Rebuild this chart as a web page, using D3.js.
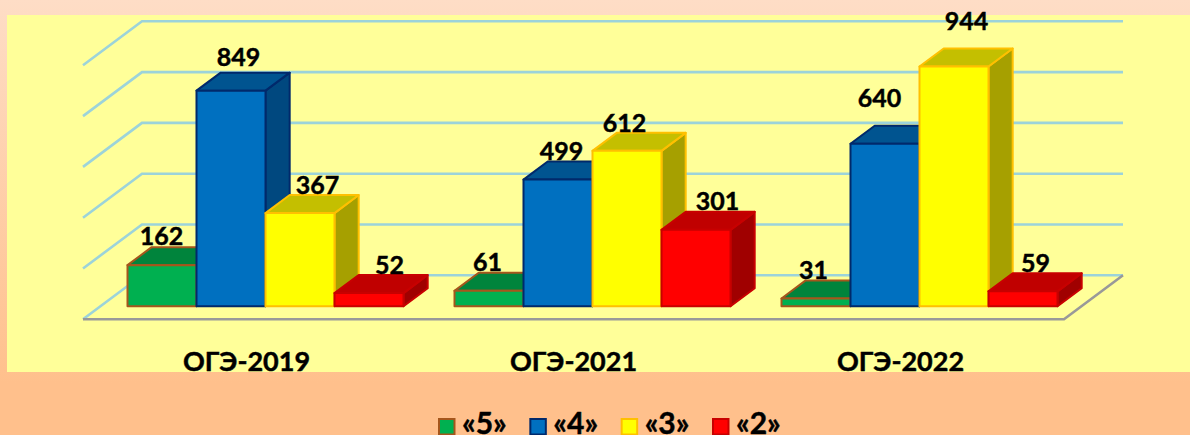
<!DOCTYPE html>
<html><head><meta charset="utf-8">
<script src="https://cdn.jsdelivr.net/npm/d3@7"></script>
<style>html,body{margin:0;padding:0;overflow:hidden;background:#FFC08C}svg{display:block}text{font-family:Lato,"Noto Sans",sans-serif;font-weight:700;fill:#000;stroke:#000;stroke-width:.45px}</style>
</head><body><div id="c"></div>
<script>
const categories = ["ОГЭ-2019","ОГЭ-2021","ОГЭ-2022"];
const seriesNames = ["«5»","«4»","«3»","«2»"];
const v5 = [162,61,31];
const v4 = [849,499,640];
const v3 = [367,612,944];
const v2 = [52,301,59];
const seriesValues = [v5,v4,v3,v2];
const yTicks = [0,200,400,600,800,1000];

// styles per series: front, top, side, stroke
const front = ["#00B050","#0070C0","#FFFF00","#FF0000"];
const topC = ["#00843C","#005490","#C4BF00","#C00000"];
const side = ["#00582A","#00487F","#A6A000","#A00000"];
const edge = ["#A5561C","#00296B","#FFC000","#C80000"];
// hand-placed label nudges [dx, baseline gap] by category then series
const nudgeX = [[0,8,18,21],[-1,4,-2,22],[-2,-5,13,13]];
const baseline = [[245,65.5,193.5,274],[271,160,132,210],[278.5,106.5,30,271.5]];

const W=1190,H=435;
const svg=d3.select("#c").append("svg").attr("width",W).attr("height",H);
const defs=svg.append("defs");
const g=defs.append("linearGradient").attr("id","bg").attr("x1",0).attr("x2",0).attr("y1",0).attr("y2",1);
g.append("stop").attr("offset",0).attr("stop-color","#FEDDC6");
g.append("stop").attr("offset",.88).attr("stop-color","#FFC08C");
svg.append("rect").attr("width",W).attr("height",H).attr("fill","url(#bg)");
svg.append("rect").attr("x",7).attr("y",15).attr("width",W-7).attr("height",357).attr("fill","#FFFF99");

const x0=d3.scaleBand().domain(categories).range([83,1064]);
const x1=d3.scaleBand().domain(d3.range(4)).range([44.5,320.5]);
const y=d3.scaleLinear().domain([0,1000]).range([319.3,65.3]);
const DX=59,DY=-44;            // full floor depth
const z=d3.scaleLinear().domain([0,1]).range([0,1]);
const px=(x,d)=>x+z(d)*DX, py=(yy,d)=>yy+z(d)*DY;
const line=d3.line();

// walls
const grid=svg.append("g").attr("fill","none").attr("stroke","#9CD3DA").attr("stroke-width",2.6);
yTicks.forEach(t=>{
  const yy=y(t);
  grid.append("path").attr("d",line([[83,yy],[px(83,1),py(yy,1)],[px(1064,1),py(yy,1)]]));
});
svg.append("path").attr("fill","none").attr("stroke","#999999").attr("stroke-width",2.6)
  .attr("d",line([[83,y(0)],[1064,y(0)],[px(1064,1),py(y(0),1)]]));

// bars
const d0=.295,d1=.705;
const bars=svg.append("g").attr("stroke-linejoin","round");
categories.forEach((c,i)=>{
  seriesValues.forEach((vals,s)=>{
    const xa=x0(c)+x1(s), xb=xa+x1.bandwidth();
    const yb=y(0), yt=y(vals[i]);
    const P=(xx,yy,d)=>[px(xx,d)-px(83,d0)+83, py(yy,d)];
    const b=bars.append("g").attr("stroke",edge[s]).attr("stroke-width",2);
    b.append("path").attr("fill",side[s]).attr("d",line([P(xb,yb,d0),P(xb,yb,d1),P(xb,yt,d1),P(xb,yt,d0)])+"Z");
    b.append("path").attr("fill",topC[s]).attr("d",line([P(xa,yt,d0),P(xb,yt,d0),P(xb,yt,d1),P(xa,yt,d1)])+"Z");
    b.append("path").attr("fill",front[s]).attr("d",line([P(xa,yb,d0),P(xb,yb,d0),P(xb,yt,d0),P(xa,yt,d0)])+"Z");
  });
});
// value labels
categories.forEach((c,i)=>{
  seriesValues.forEach((vals,s)=>{
    svg.append("text").attr("text-anchor","middle").attr("font-size",25)
      .attr("x",x0(c)+x1(s)+x1.bandwidth()/2+nudgeX[i][s]-.5).attr("y",baseline[i][s]).text(vals[i]);
  });
});
// category axis
const ax=svg.append("g").attr("transform","translate(0,319)").call(d3.axisBottom(x0).tickSize(0));
ax.select(".domain").remove();
ax.selectAll("text").attr("font-size",27).attr("dy",0).attr("y",52).style("font-family",'Lato,"Noto Sans",sans-serif').style("font-weight",700);

// legend
const lx=d3.scalePoint().domain(seriesNames).range([438,712]);
const lg=svg.append("g").selectAll("g").data(seriesNames).join("g").attr("transform",d=>`translate(${lx(d)},0)`);
lg.append("rect").attr("x",1).attr("y",419).attr("width",15.5).attr("height",15.5)
  .attr("fill",(d,i)=>front[i]).attr("stroke",(d,i)=>edge[i]).attr("stroke-width",2);
lg.append("text").attr("x",24).attr("y",434).attr("font-size",30).text(d=>d);
</script></body></html>
